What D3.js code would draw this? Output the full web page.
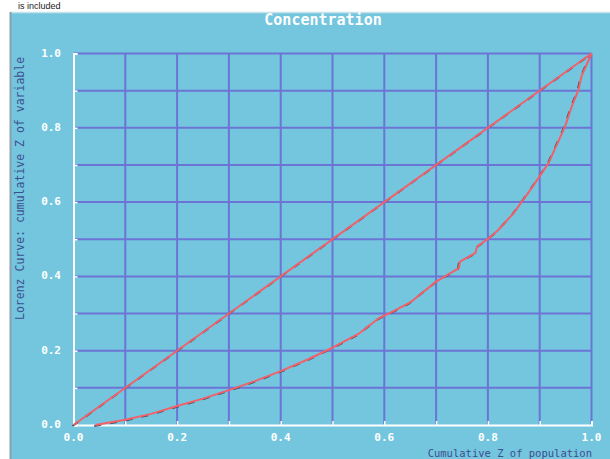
<!DOCTYPE html>
<html><head><meta charset="utf-8">
<script src="https://cdn.jsdelivr.net/npm/d3@7"></script>
<style>body{margin:0;background:#fff;}svg{display:block;}</style>
</head><body>
<svg id="c" width="610" height="459"></svg>
<script>
const title = "Concentration";
const xTitle = "Cumulative Z of population";
const yTitle = "Lorenz Curve: cumulative Z of variable";
const tickLabels = [0.0, 0.2, 0.4, 0.6, 0.8, 1.0];
const gridValues = [0.1,0.2,0.3,0.4,0.5,0.6,0.7,0.8,0.9,1.0];
const equalityX = [0, 1];
const equalityY = [0, 1];
const lorenzX = [0.042,0.1,0.15,0.2,0.25,0.3,0.35,0.4,0.45,0.5,0.55,0.59,0.616,0.65,0.7,0.744,0.746,0.776,0.779,0.802,0.82,0.85,0.88,0.917,0.949,0.962,0.975,0.981,1.0];
const lorenzY = [0,0.014,0.03,0.051,0.071,0.094,0.118,0.145,0.175,0.208,0.245,0.288,0.305,0.33,0.386,0.422,0.44,0.463,0.48,0.503,0.525,0.571,0.629,0.705,0.804,0.858,0.903,0.94,1.0];

const svg = d3.select("#c");
const bg = "#73c6de", grid = "#6c74d6", red = "#f2606a", mono = "'DejaVu Sans Mono', monospace";

svg.append("text").attr("x", 18).attr("y", 9).attr("font-family", "Liberation Sans, Arial").attr("font-size", 9).attr("fill", "#222").text("is included");

svg.append("rect").attr("x", 10).attr("y", 12).attr("width", 600).attr("height", 447).attr("fill", bg);
svg.append("line").attr("x1", 10).attr("x2", 610).attr("y1", 12.5).attr("y2", 12.5).attr("stroke", "#c8e2ea").attr("stroke-width", 1.5);
svg.append("line").attr("x1", 10.5).attr("x2", 10.5).attr("y1", 12).attr("y2", 459).attr("stroke", "#8a9fb0").attr("stroke-width", 2);

const x = d3.scaleLinear().domain([0, 1]).range([73.5, 591.5]);
const y = d3.scaleLinear().domain([0, 1]).range([425, 53.5]);

// grid
svg.append("g").selectAll("line").data(gridValues).join("line")
  .attr("x1", d => x(d)).attr("x2", d => x(d)).attr("y1", y(0)).attr("y2", y(1))
  .attr("stroke", grid).attr("stroke-width", 2);
svg.append("g").selectAll("line").data(gridValues).join("line")
  .attr("y1", d => y(d)).attr("y2", d => y(d)).attr("x1", x(0)).attr("x2", x(1))
  .attr("stroke", grid).attr("stroke-width", 2);

// axes
const xAxis = d3.axisBottom(x).tickValues(gridValues.concat([0])).tickSize(-4).tickFormat("");
const yAxis = d3.axisLeft(y).tickValues(gridValues.concat([0])).tickSize(-4).tickFormat("");
const gx = svg.append("g").attr("transform", `translate(0,${y(0)})`).call(xAxis);
const gy = svg.append("g").attr("transform", `translate(${x(0)},0)`).call(yAxis);
[gx, gy].forEach(g => {
  g.select(".domain").attr("stroke", "#fff").attr("stroke-width", 2);
  g.selectAll(".tick line").attr("stroke", "#fff").attr("stroke-width", 1.5);
});

// tick labels
svg.append("g").selectAll("text").data(tickLabels).join("text")
  .attr("x", d => x(d)).attr("y", 441).attr("text-anchor", "middle")
  .attr("font-family", mono).attr("font-weight", "bold").attr("font-size", 11).attr("fill", "#fff")
  .text(d => d.toFixed(1));
svg.append("g").selectAll("text").data(tickLabels).join("text")
  .attr("x", 61).attr("y", d => y(d) + 3).attr("text-anchor", "end")
  .attr("font-family", mono).attr("font-weight", "bold").attr("font-size", 11).attr("fill", "#fff")
  .text(d => d.toFixed(1));

// titles
svg.append("text").attr("x", 323).attr("y", 25).attr("text-anchor", "middle")
  .attr("font-family", mono).attr("font-weight", "bold").attr("font-size", 15).attr("fill", "#fff").text(title);
svg.append("text").attr("x", 592).attr("y", 457).attr("text-anchor", "end")
  .attr("font-family", mono).attr("font-size", 10.5).attr("fill", "#3d4f8f").text(xTitle);
svg.append("text").attr("transform", "translate(24,320) rotate(-90)").attr("text-anchor", "start")
  .attr("font-family", mono).attr("font-size", 11.5).attr("fill", "#3d4f8f").text(yTitle);

// curves
const line = d3.line().x(d => x(d[0])).y(d => y(d[1]));
const eq = equalityX.map((v, i) => [v, equalityY[i]]);
const lz = lorenzX.map((v, i) => [v, lorenzY[i]]);
[eq, lz].forEach(data => {
  svg.append("path").datum(data).attr("d", line).attr("fill", "none")
    .attr("stroke", "#4a4f5a").attr("stroke-width", 2).attr("stroke-dasharray", "7,9")
    .attr("transform", "translate(-1,1)");
});
[eq, lz].forEach(data => {
  svg.append("path").datum(data).attr("d", line).attr("fill", "none")
    .attr("stroke", red).attr("stroke-width", 2).attr("stroke-linejoin", "round");
});
</script>
</body></html>
